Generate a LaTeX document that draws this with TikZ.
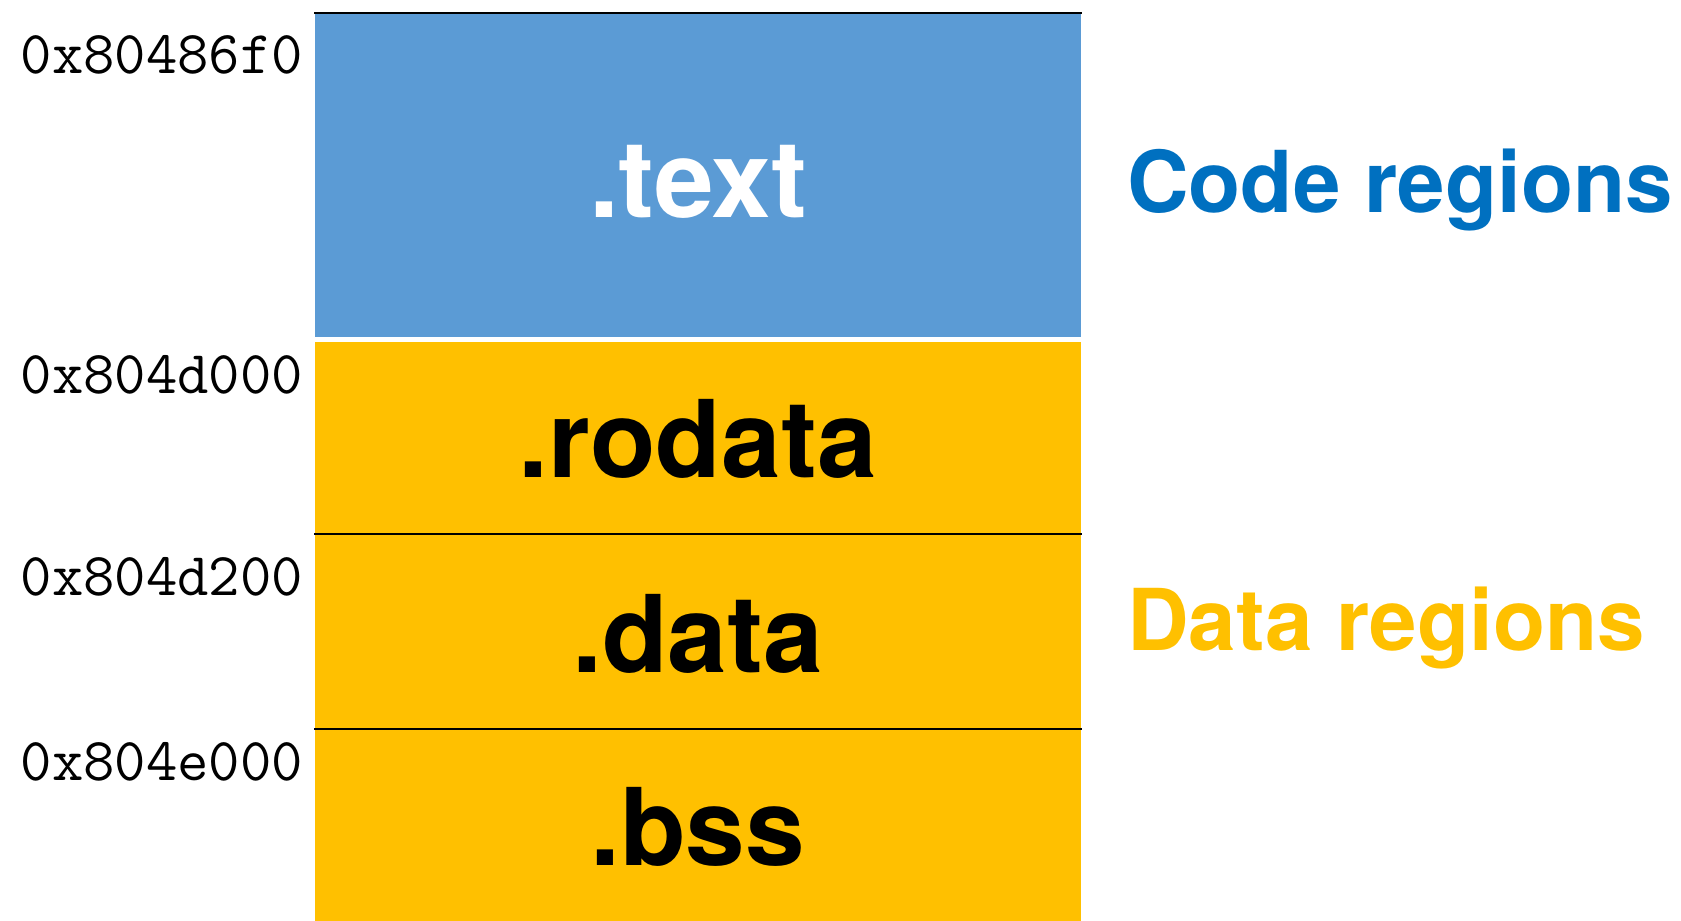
\documentclass[tikz,border=0pt]{standalone}
\usepackage{fontspec}
\newfontfamily\hvfont{TeX Gyre Heros}
\definecolor{codeblue}{HTML}{5B9BD5}
\definecolor{codetitle}{HTML}{0070C0}
\definecolor{datayellow}{HTML}{FFC000}
\begin{document}
\begin{tikzpicture}[x=0.5pt,y=-0.5pt,
  seclabel/.style={anchor=base,inner sep=0pt,font=\hvfont\bfseries\fontsize{50}{50}\selectfont},
  addr/.style={anchor=base east,inner sep=0pt,font=\ttfamily\fontsize{28.4}{28.4}\selectfont},
  regionlabel/.style={anchor=base west,inner sep=0pt,font=\hvfont\bfseries\fontsize{39.8}{39.8}\selectfont},
  divider/.style={black,line width=1.2pt}]
\useasboundingbox (0,0) rectangle (1568,859);
% memory sections
\fill[codeblue] (294,12) rectangle (1008,314);
\fill[datayellow] (294,319) rectangle (1008,859);
\draw[divider] (293,12) -- (1009,12);
\draw[divider] (293,498) -- (1009,498);
\draw[divider] (293,680) -- (1009,680);
% section names
\node[seclabel,white] (text) at (651,203) {.text};
\node[seclabel] (rodata) at (651,445) {.rodata};
\node[seclabel] (data) at (651,627) {.data};
\node[seclabel] (bss) at (651,807) {.bss};
% start addresses
\node[addr] (a1) at (283,69) {0x80486f0};
\node[addr] (a2) at (283,367) {0x804d000};
\node[addr] (a3) at (283,555) {0x804d200};
\node[addr] (a4) at (283,728) {0x804e000};
% region titles
\node[regionlabel,codetitle] (code) at (1051,198) {Code regions};
\node[regionlabel,datayellow] (dataregion) at (1051,607) {Data regions};
\end{tikzpicture}
\end{document}
